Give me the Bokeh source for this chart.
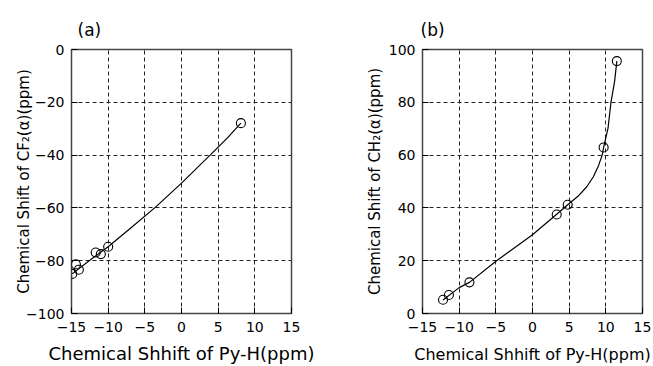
from bokeh.plotting import figure
from bokeh.layouts import row
from bokeh.models import Range1d, FixedTicker
from bokeh.embed import file_html
from bokeh.resources import INLINE

# ---- data ----
a_x = [-14.9, -14.4, -14.0, -11.7, -11.0, -10.0, 8.1]
a_y = [-85.0, -81.4, -83.4, -76.9, -77.5, -74.7, -27.9]
a_fit_x = [-14.9, -12.5, -10.0, -6.8, -3.5, 0.0, 3.9, 6.3, 8.1]
a_fit_y = [-85.0, -79.8, -74.7, -67.3, -59.6, -50.6, -40.0, -33.4, -27.9]

b_x = [-12.2, -11.4, -8.6, 3.3, 4.8, 9.7, 11.5]
b_y = [5.2, 7.0, 11.8, 37.5, 41.2, 62.9, 95.6]
b_fit_x = [-12.2, -10.0, -8.6, -4.9, 0.0, 3.3, 4.8, 6.2, 7.4, 8.3, 9.0, 9.5, 9.7, 10.3, 10.7, 11.2, 11.5]
b_fit_y = [5.1, 9.8, 11.8, 20.0, 29.8, 37.6, 41.2, 44.4, 48.0, 51.8, 56.0, 60.0, 62.9, 70.2, 80.0, 88.0, 95.6]

x_ticks = [-15, -10, -5, 0, 5, 10, 15]
a_y_ticks = [-100, -80, -60, -40, -20, 0]
b_y_ticks = [0, 20, 40, 60, 80, 100]

x_label = "Chemical Shhift of Py-H(ppm)"
a_y_label = "Chemical Shift of CF\u2082(\u03b1)(ppm)"
b_y_label = "Chemical Shift of CH\u2082(\u03b1)(ppm)"

FONT = "DejaVu Sans"


def lab(v):
    return ("\u2212" + str(abs(v))) if v < 0 else str(v)


def make(title, w, bl, br, xr, yr, yt, ylab, ylab_standoff, title_offset, xlab_size, xlab_standoff):
    p = figure(width=w, height=366, output_backend="svg", toolbar_location=None,
               x_range=Range1d(*xr), y_range=Range1d(*yr),
               min_border_left=bl, min_border_right=br,
               min_border_top=49, min_border_bottom=53)
    p.title.text = title
    p.title.text_font = FONT
    p.title.text_font_size = "17px"
    p.title.text_font_style = "normal"
    p.title.text_color = "black"
    p.title.align = "left"
    p.title.offset = title_offset
    p.title.standoff = 19
    p.background_fill_color = "white"
    p.border_fill_color = "white"
    p.outline_line_color = "#444444"
    p.outline_line_width = 1.5

    for ax, ticks in ((p.xaxis[0], x_ticks), (p.yaxis[0], yt)):
        ax.ticker = FixedTicker(ticks=ticks)
        ax.major_label_overrides = {t: lab(t) for t in ticks}
        ax.major_label_text_font = FONT
        ax.major_label_text_font_size = "14px"
        ax.major_label_text_color = "black"
        ax.axis_line_color = None
        ax.major_tick_in = 6
        ax.major_tick_out = 0
        ax.major_tick_line_color = "black"
        ax.minor_tick_line_color = None
        ax.axis_label_text_font = FONT
        ax.axis_label_text_font_style = "normal"
        ax.axis_label_text_color = "black"

    p.xaxis.axis_label = x_label
    p.xaxis.axis_label_text_font_size = xlab_size
    p.xaxis.major_label_standoff = 8
    p.xaxis.axis_label_standoff = xlab_standoff
    p.yaxis.axis_label = ylab
    p.yaxis.axis_label_text_font_size = "15px"
    p.yaxis.major_label_standoff = 7
    p.yaxis.axis_label_standoff = ylab_standoff

    p.grid.grid_line_color = "#222222"
    p.grid.grid_line_dash = "4 3"
    p.grid.grid_line_width = 1
    return p


p1 = make("(a)", 330, 71, 39, (-15, 15), (-100, 0), a_y_ticks, a_y_label, -10, 6, "18px", 8)
p1.line(a_fit_x, a_fit_y, line_color="black", line_width=1.2)
p1.scatter(a_x, a_y, marker="circle", size=9, fill_color=None, line_color="black", line_width=1.1)

p2 = make("(b)", 323, 92, 11, (-15, 15), (0, 100), b_y_ticks, b_y_label, 2, -2, "16px", 10)
p2.line(b_fit_x, b_fit_y, line_color="black", line_width=1.2)
p2.scatter(b_x, b_y, marker="circle", size=9, fill_color=None, line_color="black", line_width=1.1)

layout = row(p1, p2)
open("out.html", "w").write(file_html(layout, INLINE))
